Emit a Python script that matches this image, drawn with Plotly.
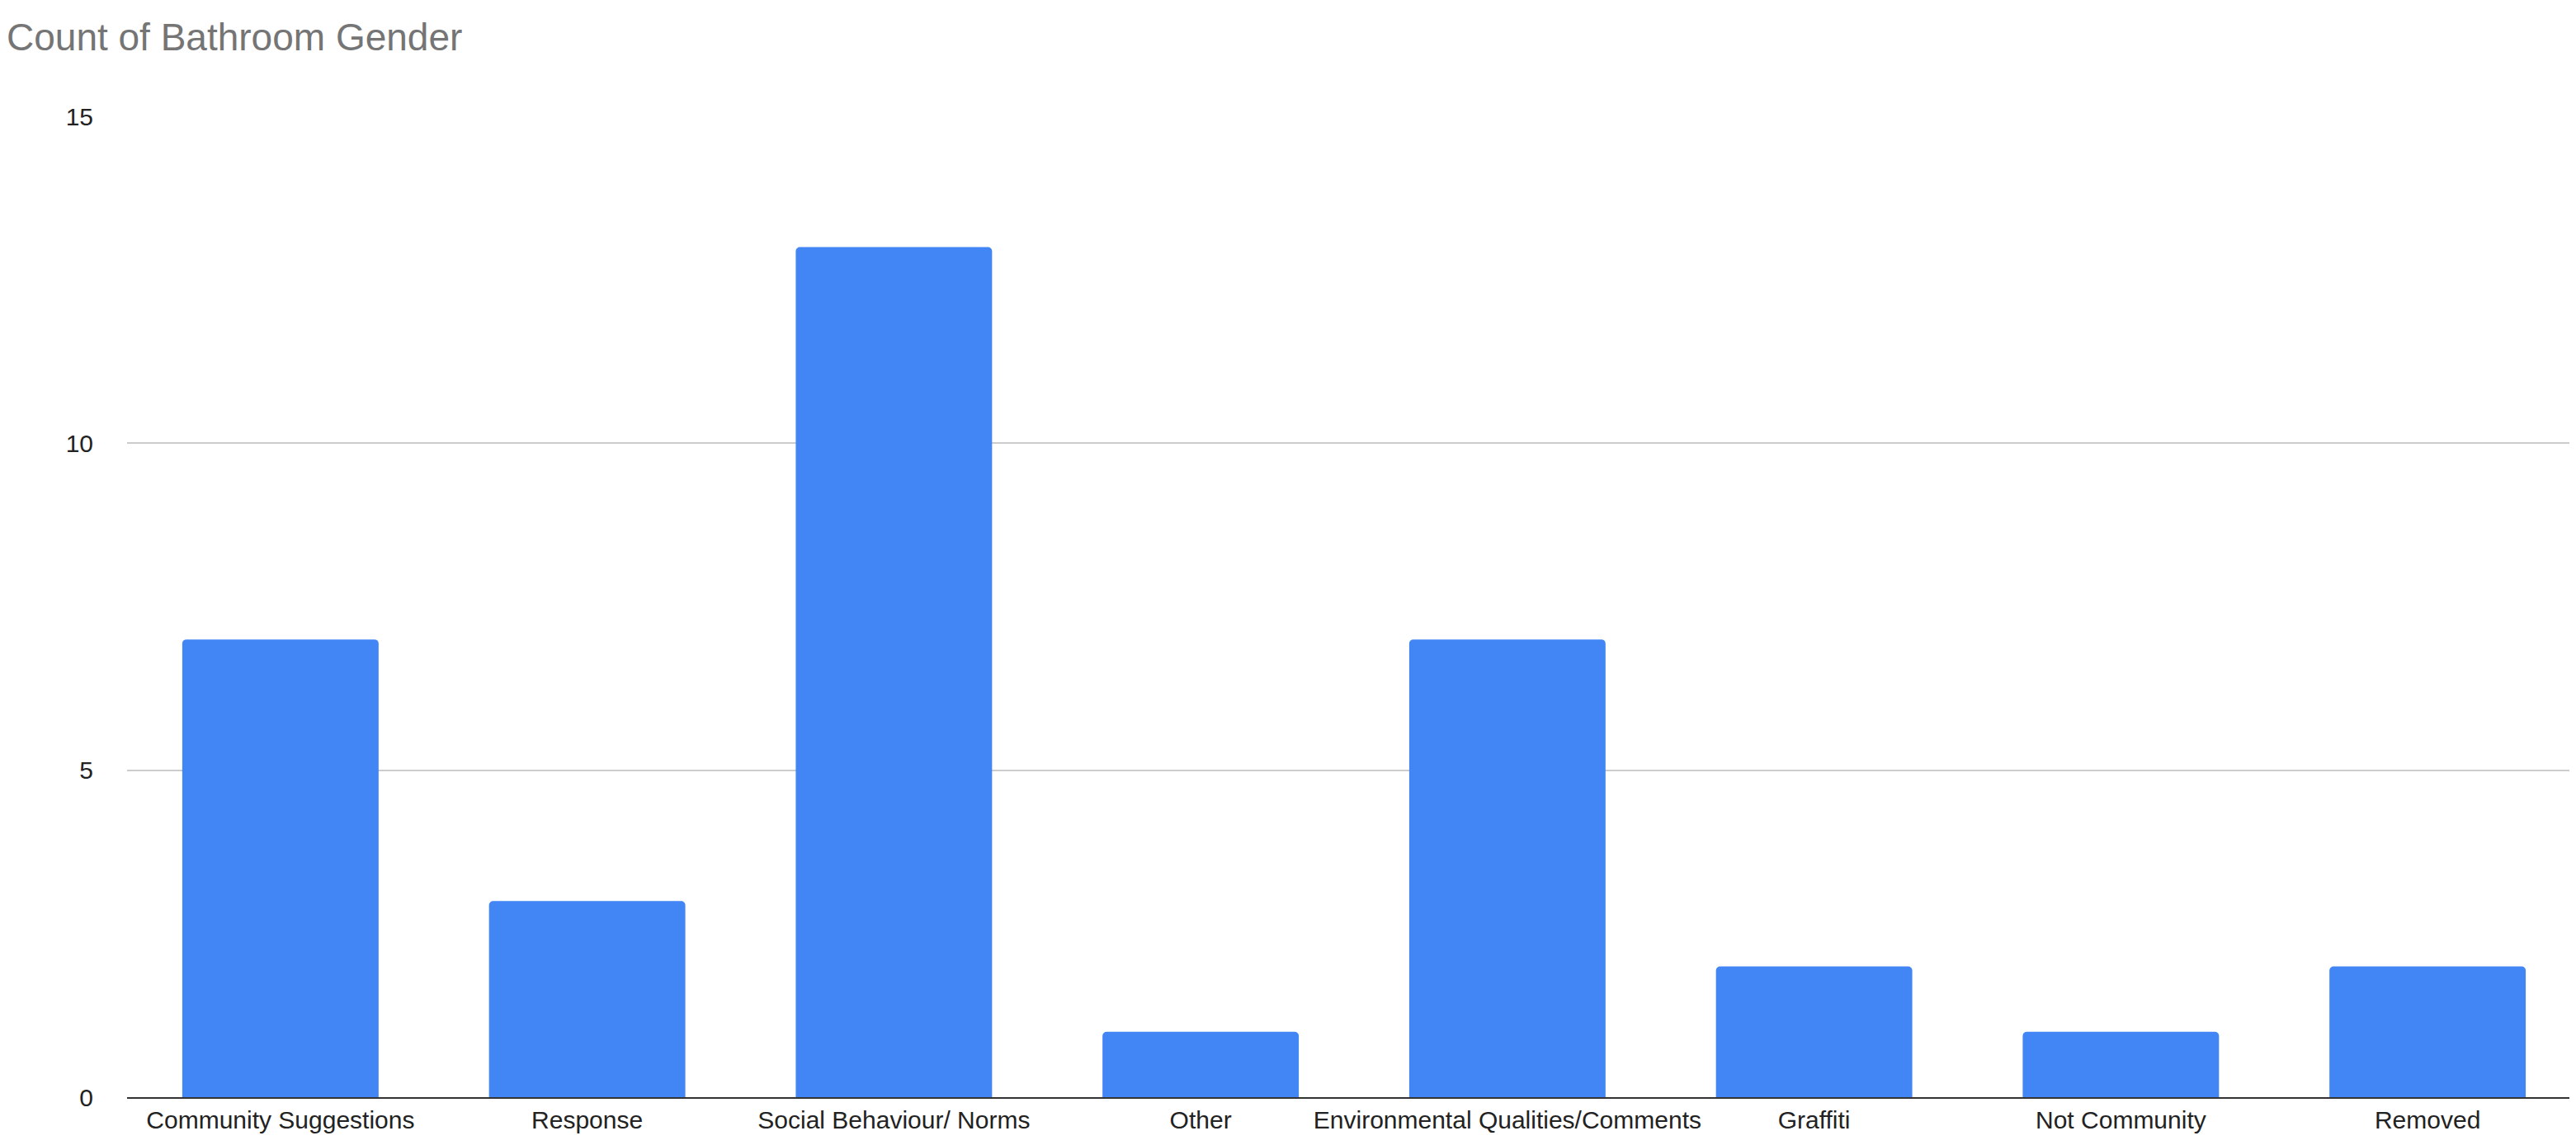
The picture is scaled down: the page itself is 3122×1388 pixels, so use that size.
import plotly.graph_objects as go

categories = ["Community Suggestions", "Response", "Social Behaviour/ Norms", "Other",
              "Environmental Qualities/Comments", "Graffiti", "Not Community", "Removed"]
counts = [7, 3, 13, 1, 7, 2, 1, 2]
y_ticks = [0, 5, 10, 15]

fig = go.Figure(go.Bar(x=categories, y=counts, marker_color="#4285F4",
                       marker_line_width=0))
fig.update_layout(
    width=3122, height=1388,
    paper_bgcolor="white", plot_bgcolor="white",
    margin=dict(l=146, r=2, t=133, b=66),
    bargap=0.36, barcornerradius=5,
    font=dict(family="Liberation Sans, Arial", size=30, color="#222222"),
    title=dict(text="Count of Bathroom Gender", x=0.0, xanchor="left", y=0.985, yanchor="top",
               font=dict(size=46, color="#757575")),
    showlegend=False,
)
fig.update_xaxes(showline=True, linecolor="#333333", linewidth=2, ticks="", tickangle=0)
fig.update_yaxes(range=[0, 15], tickvals=y_ticks, gridcolor="#cccccc", gridwidth=2,
                 zeroline=False, ticklabelstandoff=40)
fig.write_html("out.html")
